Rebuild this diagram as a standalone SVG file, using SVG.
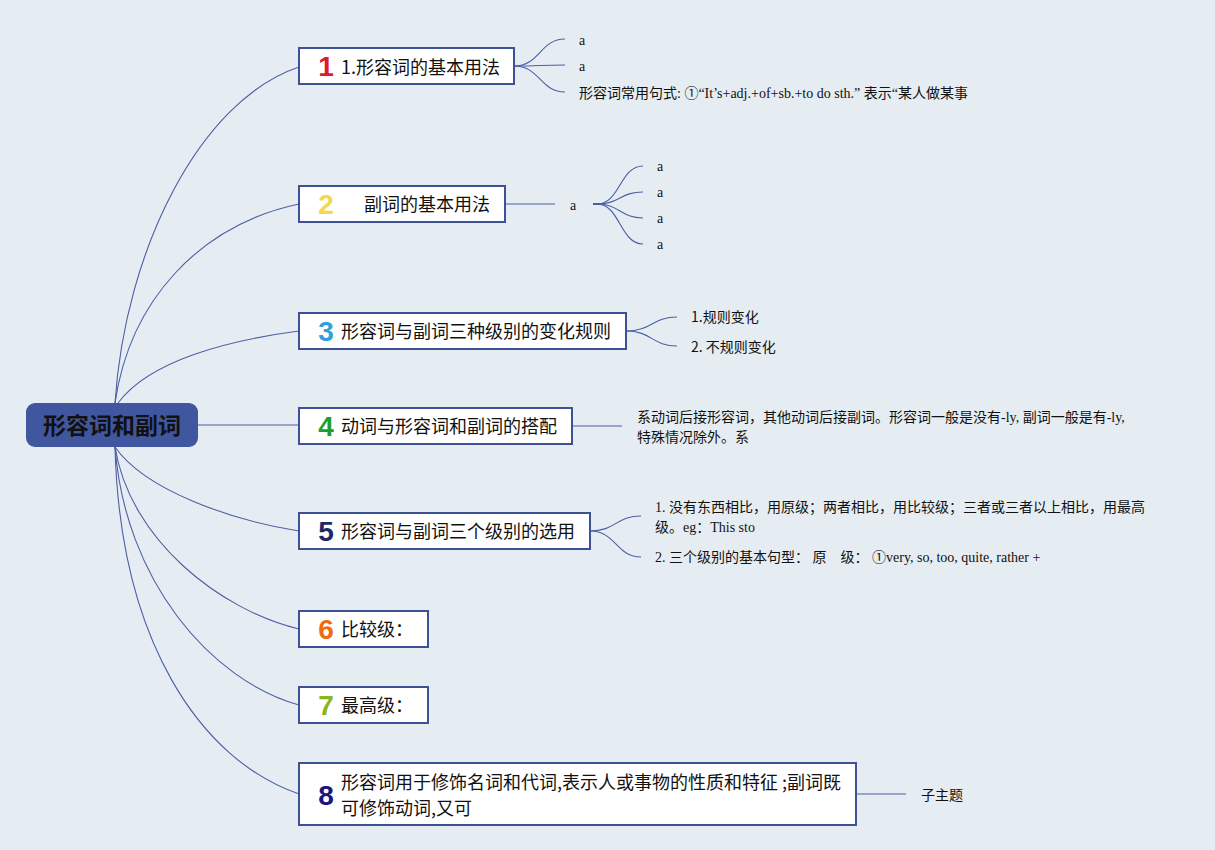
<svg xmlns="http://www.w3.org/2000/svg" width="1215" height="850" viewBox="0 0 1215 850">
<style>
.bg{fill:#e6edf2}
.node{fill:#ffffff;stroke:#3d5295;stroke-width:2}
.ntext{font-family:"Noto Sans CJK SC","Liberation Sans",sans-serif;font-size:18px;fill:#111}
.num{font-family:"Liberation Sans","Noto Sans",sans-serif;font-size:28px;font-weight:900}
.sub{font-family:"Liberation Serif","Noto Sans CJK SC",serif;font-size:14px;fill:#111}
.subs{font-family:"Noto Sans CJK SC","Liberation Sans",sans-serif;font-size:14px;fill:#111}
.conn path,.conn line{fill:none;stroke:#4a5fa8;stroke-width:1.1}
</style>
<rect class="bg" x="0" y="0" width="1215" height="850"/>
<g class="conn" id="connectors">
<path d="M115,403 C125,250 200,100 299,67"/>
<path d="M115,403 C130,300 200,225 299,204"/>
<path d="M118,403 C150,360 230,340 299,331"/>
<line x1="198" y1="425" x2="299" y2="425"/>
<path d="M115,447 C145,490 230,520 299,531"/>
<path d="M115,447 C130,540 220,610 299,629"/>
<path d="M115,447 C125,580 210,680 299,705"/>
<path d="M115,447 C120,640 200,760 299,794"/>
<path d="M514,66 C540,66 540,39 565,39"/>
<path d="M514,66 C540,66 540,65 565,65"/>
<path d="M514,66 C540,66 540,92 565,92"/>
<line x1="505" y1="204" x2="555" y2="204"/>
<line x1="593" y1="204" x2="600" y2="204" style="stroke-width:2"/>
<path d="M597,204 C620,204 620,166 643,166"/>
<path d="M597,204 C620,204 620,192 643,192"/>
<path d="M597,204 C620,204 620,218 643,218"/>
<path d="M597,204 C620,204 620,244 643,244"/>
<path d="M626,331 C652,331 652,317 677,317"/>
<path d="M626,331 C652,331 652,346 677,346"/>
<line x1="572" y1="426" x2="622" y2="426"/>
<path d="M590,531 C616,531 616,516 641,516"/>
<path d="M590,531 C616,531 616,557 641,557"/>
<line x1="856" y1="794" x2="906" y2="794"/>
</g>
<g id="root">
<rect x="26" y="403" width="172" height="44" rx="9" fill="#40579f"/>
<text x="112" y="434" text-anchor="middle" font-family="Noto Sans CJK SC, sans-serif" font-size="23" font-weight="bold" fill="#111">形容词和副词</text>
</g>
<g id="n1">
<rect class="node" x="299" y="48" width="215" height="36"/>
<text class="num" x="326" y="76" text-anchor="middle" fill="#e0192c">1</text>
<text class="ntext" x="341" y="74">1.形容词的基本用法</text>
</g>
<g id="n1c">
<text class="sub" x="579" y="45">a</text>
<text class="sub" x="579" y="71">a</text>
<text class="sub" x="579" y="98">形容词常用句式: ①“It’s+adj.+of+sb.+to do sth.” 表示“某人做某事</text>
</g>
<g id="n2">
<rect class="node" x="299" y="186" width="206" height="36"/>
<text class="num" x="326" y="214" text-anchor="middle" fill="#f5d84a">2</text>
<text class="ntext" x="364" y="211">副词的基本用法</text>
</g>
<g id="n2c">
<text class="sub" x="570" y="210">a</text>
<text class="sub" x="657" y="171">a</text>
<text class="sub" x="657" y="197">a</text>
<text class="sub" x="657" y="223">a</text>
<text class="sub" x="657" y="249">a</text>
</g>
<g id="n3">
<rect class="node" x="299" y="313" width="327" height="36"/>
<text class="num" x="326" y="341" text-anchor="middle" fill="#2ea0dc">3</text>
<text class="ntext" x="341" y="338">形容词与副词三种级别的变化规则</text>
</g>
<g id="n3c">
<text class="subs" x="691" y="322">1.规则变化</text>
<text class="subs" x="691" y="352">2. 不规则变化</text>
</g>
<g id="n4">
<rect class="node" x="299" y="408" width="273" height="36"/>
<text class="num" x="326" y="436" text-anchor="middle" fill="#1e9e2e">4</text>
<text class="ntext" x="341" y="433">动词与形容词和副词的搭配</text>
</g>
<g id="n4c">
<text class="sub" x="637" y="422">系动词后接形容词，其他动词后接副词。形容词一般是没有-ly, 副词一般是有-ly,</text>
<text class="sub" x="637" y="442">特殊情况除外。系</text>
</g>
<g id="n5">
<rect class="node" x="299" y="513" width="291" height="36"/>
<text class="num" x="326" y="541" text-anchor="middle" fill="#1c2a6a">5</text>
<text class="ntext" x="341" y="538">形容词与副词三个级别的选用</text>
</g>
<g id="n5c">
<text class="sub" x="655" y="512">1. 没有东西相比，用原级；两者相比，用比较级；三者或三者以上相比，用最高</text>
<text class="sub" x="655" y="532">级。eg：This sto</text>
<text class="sub" x="655" y="562">2. 三个级别的基本句型： 原　级： ①very, so, too, quite, rather +</text>
</g>
<g id="n6">
<rect class="node" x="299" y="611" width="129" height="36"/>
<text class="num" x="326" y="639" text-anchor="middle" fill="#f06a12">6</text>
<text class="ntext" x="341" y="636">比较级：</text>
</g>
<g id="n7">
<rect class="node" x="299" y="687" width="129" height="36"/>
<text class="num" x="326" y="715" text-anchor="middle" fill="#8bb31c">7</text>
<text class="ntext" x="341" y="712">最高级：</text>
</g>
<g id="n8">
<rect class="node" x="299" y="763" width="557" height="62"/>
<text class="num" x="326" y="805" text-anchor="middle" fill="#1a1580">8</text>
<text class="ntext" x="341" y="789">形容词用于修饰名词和代词,表示人或事物的性质和特征 ;副词既</text>
<text class="ntext" x="341" y="815">可修饰动词,又可</text>
</g>
<g id="n8c">
<text class="subs" x="921" y="800">子主题</text>
</g>
</svg>
